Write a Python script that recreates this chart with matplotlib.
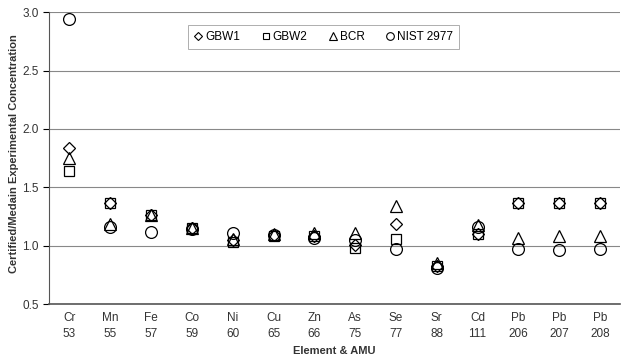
import matplotlib
matplotlib.use("Agg")
import matplotlib.pyplot as plt

plt.rcParams['font.family'] = ['Liberation Sans', 'DejaVu Sans']

elements = ["Cr", "Mn", "Fe", "Co", "Ni", "Cu", "Zn", "As", "Se", "Sr", "Cd", "Pb", "Pb", "Pb"]
amu = ["53", "55", "57", "59", "60", "65", "66", "75", "77", "88", "111", "206", "207", "208"]

gbw1 = [1.84, 1.37, 1.26, 1.15, 1.05, 1.09, 1.08, 1.01, 1.19, 0.83, 1.10, 1.37, 1.37, 1.37]
gbw2 = [1.64, 1.37, 1.26, 1.15, 1.03, 1.08, 1.08, 0.98, 1.06, 0.83, 1.10, 1.37, 1.37, 1.37]
bcr = [1.75, 1.19, 1.26, 1.15, 1.06, 1.10, 1.11, 1.11, 1.34, 0.85, 1.18, 1.07, 1.08, 1.08]
nist = [2.94, 1.16, 1.12, 1.14, 1.11, 1.09, 1.07, 1.05, 0.97, 0.81, 1.16, 0.97, 0.96, 0.97]

series = [("GBW1", gbw1, "D", 6.0), ("GBW2", gbw2, "s", 7.5),
          ("BCR", bcr, "^", 8.0), ("NIST 2977", nist, "o", 8.5)]

fig = plt.figure(figsize=(6.21, 3.57), dpi=100)
ax = fig.add_axes([0.079, 0.148, 0.92, 0.818])

x = list(range(len(elements)))
for label, vals, m, ms in series:
    ax.plot(x, vals, linestyle="none", marker=m, markersize=ms,
            markerfacecolor="none", markeredgecolor="black",
            markeredgewidth=0.9, label=label)

ax.set_xlim(-0.5, len(elements) - 0.5)
ax.set_ylim(0.5, 3.0)
ax.set_yticks([0.5, 1.0, 1.5, 2.0, 2.5, 3.0])
ax.set_yticklabels(["0.5", "1.0", "1.5", "2.0", "2.5", "3.0"], fontsize=8.5, color="#333333")
ax.set_xticks(x)
ax.set_xticklabels([f"{e}\n{a}" for e, a in zip(elements, amu)], fontsize=8.5,
                   color="#333333", linespacing=1.4)
ax.tick_params(axis="x", length=0, pad=6)
ax.tick_params(axis="y", length=4, direction="out", width=0.8)

ax.grid(axis="y", color="#888888", linewidth=0.8)
ax.set_axisbelow(True)
for s in ["top", "right"]:
    ax.spines[s].set_visible(False)
ax.spines["left"].set_color("#555555")
ax.spines["bottom"].set_color("#555555")
ax.spines["bottom"].set_linewidth(1.2)

fig.text(0.022, 0.57, "Certified/Medain Experimental Concentration", fontsize=8,
         fontweight="bold", color="#333333", rotation=90, ha="center", va="center")
ax.set_xlabel("Element & AMU", fontsize=8, fontweight="bold", color="#333333", labelpad=4)

leg_handles = []
for label, vals, m, ms in series:
    h, = ax.plot([], [], linestyle="none", marker=m, markersize=ms * 0.65,
                 markerfacecolor="none", markeredgecolor="black", markeredgewidth=0.8)
    leg_handles.append(h)
leg = ax.legend(leg_handles, [s[0] for s in series], loc="upper center",
                bbox_to_anchor=(0.48, 0.975), ncol=4, fontsize=8.5, frameon=True,
                fancybox=False, edgecolor="#999999", handlelength=0.8,
                handletextpad=0.15, columnspacing=1.8, borderpad=0.5)
leg.get_frame().set_linewidth(0.7)

fig.savefig("out.png", dpi=100)
